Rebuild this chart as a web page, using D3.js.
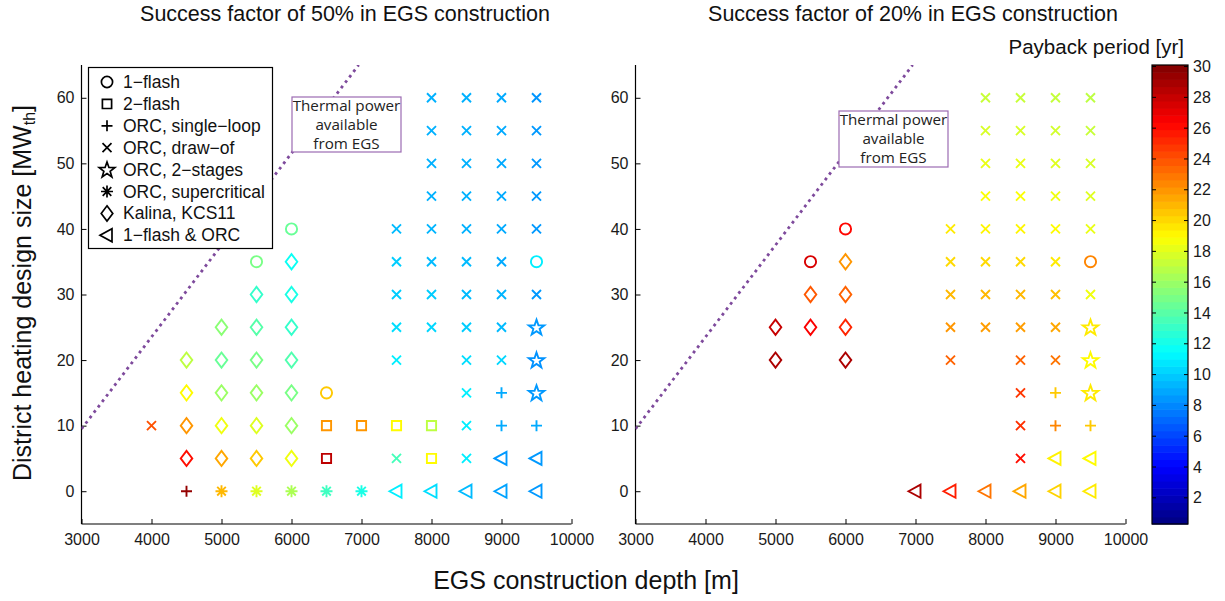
<!DOCTYPE html>
<html>
<head>
<meta charset="utf-8">
<script src="https://cdn.jsdelivr.net/npm/d3@7"></script>
<style>
  html, body { margin: 0; padding: 0; background: #fff; }
  svg text { font-family: "Liberation Sans", Arial, Helvetica, sans-serif; }
</style>
</head>
<body>
<svg id="chart" width="1225" height="601"></svg>
<script>
// ---- data -------------------------------------------------------------
// Each plant: [EGS depth (m), district heating size (MWth), cycle code, payback (yr)]
// cycle codes: o 1-flash, s 2-flash, + ORC single-loop, x ORC draw-of,
//              p ORC 2-stages, * ORC supercritical, d Kalina KCS11, < 1-flash & ORC
const plants50 = [
  [4000, 10, "x", 24],
  [4500, 20, "d", 17], [4500, 15, "d", 19], [4500, 10, "d", 22], [4500, 5, "d", 26], [4500, 0, "+", 29.5],
  [5000, 25, "d", 15.5], [5000, 20, "d", 14.5], [5000, 15, "d", 16], [5000, 10, "d", 18.5], [5000, 5, "d", 21.5], [5000, 0, "*", 21],
  [5500, 35, "o", 15], [5500, 30, "d", 13], [5500, 25, "d", 14], [5500, 20, "d", 15], [5500, 15, "d", 16], [5500, 10, "d", 18], [5500, 5, "d", 20.5], [5500, 0, "*", 18],
  [6000, 40, "o", 14.5], [6000, 35, "d", 11.8], [6000, 30, "d", 12.2], [6000, 25, "d", 13], [6000, 20, "d", 13.8], [6000, 15, "d", 15], [6000, 10, "d", 16], [6000, 5, "d", 18.5], [6000, 0, "*", 16.5],
  [6500, 15, "o", 20.5], [6500, 10, "s", 22], [6500, 5, "s", 28.3], [6500, 0, "*", 13.3],
  [7000, 10, "s", 22], [7000, 0, "*", 12.2],
  [7500, 40, "x", 9.5], [7500, 35, "x", 10], [7500, 30, "x", 10], [7500, 25, "x", 10.5], [7500, 20, "x", 11], [7500, 10, "s", 19], [7500, 5, "x", 13.5], [7500, 0, "<", 11],
  [8000, 60, "x", 9.2], [8000, 55, "x", 9.2], [8000, 50, "x", 9.2], [8000, 45, "x", 9.2], [8000, 40, "x", 9.3], [8000, 35, "x", 9.5], [8000, 30, "x", 10], [8000, 25, "x", 10.3], [8000, 10, "s", 17], [8000, 5, "s", 19], [8000, 0, "<", 10.5],
  [8500, 60, "x", 9.2], [8500, 55, "x", 9.2], [8500, 50, "x", 9.2], [8500, 45, "x", 9.2], [8500, 40, "x", 9.2], [8500, 35, "x", 9.5], [8500, 30, "x", 9.5], [8500, 25, "x", 10], [8500, 20, "x", 10.5], [8500, 15, "x", 11], [8500, 10, "x", 11], [8500, 5, "x", 11], [8500, 0, "<", 9.5],
  [9000, 60, "x", 9], [9000, 55, "x", 9], [9000, 50, "x", 9], [9000, 45, "x", 9], [9000, 40, "x", 9], [9000, 35, "x", 9], [9000, 30, "x", 9.3], [9000, 25, "x", 9.5], [9000, 20, "x", 10.3], [9000, 15, "+", 9], [9000, 10, "+", 9], [9000, 5, "<", 8.5], [9000, 0, "<", 8.8],
  [9500, 60, "x", 8.4], [9500, 55, "x", 8.5], [9500, 50, "x", 8.5], [9500, 45, "x", 8.5], [9500, 40, "x", 8.5], [9500, 35, "o", 11], [9500, 30, "x", 8.5], [9500, 25, "p", 8.5], [9500, 20, "p", 8.3], [9500, 15, "p", 8.5], [9500, 10, "+", 9], [9500, 5, "<", 8.5], [9500, 0, "<", 8.5]
];

const plants20 = [
  [5000, 25, "d", 28], [5000, 20, "d", 28.8],
  [5500, 35, "o", 27.5], [5500, 30, "d", 23.8], [5500, 25, "d", 26.5],
  [6000, 40, "o", 26.2], [6000, 35, "d", 22], [6000, 30, "d", 23.5], [6000, 25, "d", 25.3], [6000, 20, "d", 28.8],
  [7000, 0, "<", 28.8],
  [7500, 40, "x", 19.5], [7500, 35, "x", 20], [7500, 30, "x", 21], [7500, 25, "x", 22], [7500, 20, "x", 23.5], [7500, 0, "<", 25.5],
  [8000, 60, "x", 17.3], [8000, 55, "x", 17.8], [8000, 50, "x", 18.3], [8000, 45, "x", 18.8], [8000, 40, "x", 19.2], [8000, 35, "x", 20], [8000, 30, "x", 21], [8000, 25, "x", 21.8], [8000, 0, "<", 23],
  [8500, 60, "x", 17.3], [8500, 55, "x", 17.8], [8500, 50, "x", 18.3], [8500, 45, "x", 18.8], [8500, 40, "x", 19.2], [8500, 35, "x", 20], [8500, 30, "x", 21], [8500, 25, "x", 21.8], [8500, 20, "x", 23.5], [8500, 15, "x", 24.8], [8500, 10, "x", 25], [8500, 5, "x", 26], [8500, 0, "<", 21.5],
  [9000, 60, "x", 17.2], [9000, 55, "x", 17.6], [9000, 50, "x", 18], [9000, 45, "x", 18.5], [9000, 40, "x", 19], [9000, 35, "x", 19.5], [9000, 30, "x", 20.8], [9000, 25, "x", 21.5], [9000, 20, "x", 23], [9000, 15, "+", 20.5], [9000, 10, "+", 22.5], [9000, 5, "<", 19.3], [9000, 0, "<", 20.2],
  [9500, 60, "x", 17], [9500, 55, "x", 17.3], [9500, 50, "x", 17.8], [9500, 45, "x", 18], [9500, 40, "x", 18.3], [9500, 35, "o", 22.5], [9500, 30, "x", 18.5], [9500, 25, "p", 19.5], [9500, 20, "p", 19], [9500, 15, "p", 19.5], [9500, 10, "+", 20.5], [9500, 5, "<", 19], [9500, 0, "<", 19.5]
];

// Thermal power available from EGS (MWth) against depth (m)
const thermalDepth = [3000, 6960];
const thermalPower = [9.5, 65];

const panelTitles = ["Success factor of 50% in EGS construction", "Success factor of 20% in EGS construction"];
const xTicks = [3000, 4000, 5000, 6000, 7000, 8000, 9000, 10000];
const yTicks = [0, 10, 20, 30, 40, 50, 60];
const colorTicks = [2, 4, 6, 8, 10, 12, 14, 16, 18, 20, 22, 24, 26, 28, 30];
const paybackRange = [0.3, 30.1];

const cycleCodes = ["o", "s", "+", "x", "p", "*", "d", "<"];
const cycleNames = ["1\u2212flash", "2\u2212flash", "ORC, single\u2212loop", "ORC, draw\u2212of",
                    "ORC, 2\u2212stages", "ORC, supercritical", "Kalina, KCS11", "1\u2212flash & ORC"];

// ---- helpers ----------------------------------------------------------
function jet(t) {
  const c = v => Math.max(0, Math.min(1, v));
  const r = c(1.5 - Math.abs(4 * t - 3));
  const g = c(1.5 - Math.abs(4 * t - 2));
  const b = c(1.5 - Math.abs(4 * t - 1));
  return d3.rgb(r * 255, g * 255, b * 255).formatHex();
}
const tScale = d3.scaleLinear().domain(paybackRange).range([0, 1]).clamp(true);
const colorOf = v => jet(tScale(v));

// marker outlines centred on (0,0)
function markerPath(code) {
  const p = d3.path();
  switch (code) {
    case "o": p.arc(0, 0, 5.6, 0, 2 * Math.PI); p.closePath(); break;
    case "s": p.rect(-4.6, -4.6, 9.2, 9.2); break;
    case "+": p.moveTo(-5.5, 0); p.lineTo(5.5, 0); p.moveTo(0, -5.5); p.lineTo(0, 5.5); break;
    case "x": p.moveTo(-4.5, -4.5); p.lineTo(4.5, 4.5); p.moveTo(-4.5, 4.5); p.lineTo(4.5, -4.5); break;
    case "*":
      p.moveTo(-6, 0); p.lineTo(6, 0); p.moveTo(0, -6); p.lineTo(0, 6);
      p.moveTo(-4.3, -4.3); p.lineTo(4.3, 4.3); p.moveTo(-4.3, 4.3); p.lineTo(4.3, -4.3); break;
    case "d": p.moveTo(0, -7.6); p.lineTo(5.8, 0); p.lineTo(0, 7.6); p.lineTo(-5.8, 0); p.closePath(); break;
    case "<": p.moveTo(-7, 0); p.lineTo(5, -6.5); p.lineTo(5, 6.5); p.closePath(); break;
    case "p": {
      const R = 8.2, r = 3.3;
      for (let i = 0; i < 10; i++) {
        const a = -Math.PI / 2 + i * Math.PI / 5;
        const rr = i % 2 === 0 ? R : r;
        const x = rr * Math.cos(a), y = rr * Math.sin(a) + 0.6;
        if (i === 0) p.moveTo(x, y); else p.lineTo(x, y);
      }
      p.closePath(); break;
    }
  }
  return p.toString();
}

// ---- layout -----------------------------------------------------------
const svg = d3.select("#chart");
svg.append("rect").attr("width", 1225).attr("height", 601).attr("fill", "#fff");

const plotTop = 65, plotBottom = 524;
const panels = [
  { left: 81.5, right: 571.5, data: plants50, title: panelTitles[0], titleX: 345,
    box: { x: 292, y: 97, w: 109, h: 55 } },
  { left: 635.5, right: 1125.5, data: plants20, title: panelTitles[1], titleX: 913,
    box: { x: 839, y: 111, w: 109, h: 56 } }
];

const y = d3.scaleLinear().domain([-5, 65]).range([plotBottom, plotTop]);

panels.forEach((pn, i) => {
  const x = d3.scaleLinear().domain([3000, 10000]).range([pn.left, pn.right]);
  const g = svg.append("g");

  const clipId = "clip" + i;
  svg.append("clipPath").attr("id", clipId).append("rect")
    .attr("x", pn.left).attr("y", plotTop).attr("width", pn.right - pn.left).attr("height", plotBottom - plotTop);

  // axes (ticks pointing inward)
  const xAxis = d3.axisBottom(x).tickValues(xTicks).tickFormat(d3.format("d")).tickSizeInner(-5).tickSizeOuter(0).tickPadding(10);
  const yAxis = d3.axisLeft(y).tickValues(yTicks).tickFormat(d3.format("d")).tickSizeInner(-5).tickSizeOuter(0).tickPadding(7);
  const gx = g.append("g").attr("transform", `translate(0,${plotBottom})`).call(xAxis);
  const gy = g.append("g").attr("transform", `translate(${pn.left},0)`).call(yAxis);
  [gx, gy].forEach(a => {
    a.select(".domain").attr("stroke", "#000").attr("stroke-width", 1.2);
    a.selectAll(".tick line").attr("stroke", "#000").attr("stroke-width", 1);
    a.selectAll(".tick text").attr("fill", "#1a1a1a").style("font-size", "16px")
      .style("font-family", "'Liberation Sans', Arial, sans-serif");
  });
  gy.select(".domain").attr("d", `M0,${plotTop}V${plotBottom}`);
  gx.select(".domain").attr("d", `M${pn.left},0H${pn.right}`);

  // thermal power limit
  const line = d3.line().x(d => x(d[0])).y(d => y(d[1]));
  g.append("path")
    .datum(thermalDepth.map((d, k) => [d, thermalPower[k]]))
    .attr("d", line).attr("clip-path", `url(#${clipId})`)
    .attr("fill", "none").attr("stroke", "#7e4a9c").attr("stroke-width", 2.8)
    .attr("stroke-dasharray", "2.8 4");

  // annotation box
  const b = pn.box;
  g.append("rect").attr("x", b.x).attr("y", b.y).attr("width", b.w).attr("height", b.h)
    .attr("fill", "#fff").attr("stroke", "#9c6bb2").attr("stroke-width", 1.2);
  const ann = g.append("text").attr("text-anchor", "middle").attr("fill", "#222")
    .style("font-family", "'Open Sans', 'Noto Sans', sans-serif").style("font-size", "15.2px");
  ["Thermal power", "available", "from EGS"].forEach((s, k) => {
    ann.append("tspan").attr("x", b.x + b.w / 2).attr("y", b.y + 13.5 + k * 19).text(s);
  });

  // plant markers
  g.append("g").selectAll("path").data(pn.data).join("path")
    .attr("transform", d => `translate(${x(d[0])},${y(d[1])})`)
    .attr("d", d => markerPath(d[2]))
    .attr("fill", "none")
    .attr("stroke", d => colorOf(d[3]))
    .attr("stroke-width", 1.9);

  // title
  svg.append("text").attr("x", pn.titleX).attr("y", 21).attr("text-anchor", "middle")
    .attr("fill", "#111").style("font-size", "21.5px").text(pn.title);
});

// ---- legend -------------------------------------------------------------
const leg = svg.append("g");
leg.append("rect").attr("x", 88.5).attr("y", 67.5).attr("width", 184).attr("height", 181)
  .attr("fill", "#fff").attr("stroke", "#000").attr("stroke-width", 1.2);
cycleCodes.forEach((c, k) => {
  const cy = 82 + k * 21.9;
  leg.append("path").attr("transform", `translate(107,${cy})`).attr("d", markerPath(c))
    .attr("fill", "none").attr("stroke", "#000").attr("stroke-width", 1.7);
  leg.append("text").attr("x", 123).attr("y", cy + 6).attr("fill", "#111")
    .style("font-size", "17.5px").text(cycleNames[k]);
});

// ---- colour bar ---------------------------------------------------------
const cb = { x: 1152, w: 36 };
const cy = d3.scaleLinear().domain(paybackRange).range([plotBottom, plotTop]);
const nBands = 64;
const bands = d3.range(nBands);
const bandH = (plotBottom - plotTop) / nBands;
svg.append("g").selectAll("rect").data(bands).join("rect")
  .attr("x", cb.x).attr("width", cb.w)
  .attr("y", d => plotBottom - (d + 1) * bandH).attr("height", bandH + 0.6)
  .attr("fill", d => jet((d + 0.5) / nBands));
svg.append("rect").attr("x", cb.x).attr("y", plotTop).attr("width", cb.w).attr("height", plotBottom - plotTop)
  .attr("fill", "none").attr("stroke", "#000").attr("stroke-width", 1.2);
const cAxis = d3.axisRight(cy).tickValues(colorTicks).tickSizeInner(0).tickSizeOuter(0).tickPadding(5);
const gc = svg.append("g").attr("transform", `translate(${cb.x + cb.w},0)`).call(cAxis);
gc.select(".domain").remove();
gc.selectAll(".tick text").attr("fill", "#1a1a1a").style("font-size", "16px")
  .style("font-family", "'Liberation Sans', Arial, sans-serif");
svg.append("g").selectAll("path").data(colorTicks).join("path")
  .attr("d", d => `M${cb.x},${cy(d)}h4M${cb.x + cb.w},${cy(d)}h-4`)
  .attr("stroke", "#000").attr("stroke-width", 1);
svg.append("text").attr("x", 1184).attr("y", 54).attr("text-anchor", "end")
  .attr("fill", "#111").style("font-size", "20.5px").text("Payback period [yr]");

// ---- axis titles ----------------------------------------------------------
svg.append("text").attr("x", 586).attr("y", 589).attr("text-anchor", "middle")
  .attr("fill", "#111").style("font-size", "25px").text("EGS construction depth [m]");
const yt = svg.append("text").attr("transform", "translate(31,293) rotate(-90)")
  .attr("text-anchor", "middle").attr("fill", "#111").style("font-size", "25px");
yt.append("tspan").text("District heating design size [MW");
yt.append("tspan").attr("dy", 4).style("font-size", "16px").text("th");
yt.append("tspan").attr("dy", -4).text("]");
</script>
</body>
</html>
